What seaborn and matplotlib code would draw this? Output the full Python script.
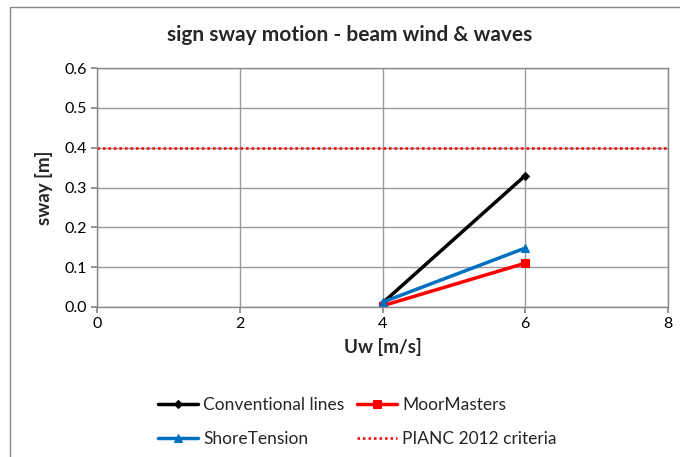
import matplotlib
matplotlib.use("Agg")
import matplotlib.pyplot as plt
import seaborn as sns
import pandas as pd
from matplotlib.patches import Rectangle

sns.set_theme(style="white")
plt.rcParams['font.family'] = ['Lato', 'DejaVu Sans']

uw = [4, 6]
conventional = [0.01, 0.33]
moormasters = [0.003, 0.11]
shoretension = [0.012, 0.148]
pianc_x = [0, 8]
pianc_y = [0.4, 0.4]

fig = plt.figure(figsize=(6.8, 4.57), dpi=100)
ax = fig.add_axes([97/680, 1-307/457, (668-97)/680, (307-68)/457])

fig.patches.append(Rectangle((10/680, -0.1), 1.0, 1-7/457+0.1, transform=fig.transFigure,
                             fill=False, edgecolor='#888888', linewidth=1.0))

sns.lineplot(x=uw, y=conventional, ax=ax, color='black', linewidth=2.5, marker='D',
             markersize=4.5, markeredgecolor='black', label='Conventional lines')
sns.lineplot(x=uw, y=moormasters, ax=ax, color='#ff0000', linewidth=2.5, marker='s',
             markersize=6, markeredgecolor='#ff0000', label='MoorMasters')
sns.lineplot(x=uw, y=shoretension, ax=ax, color='#0070c0', linewidth=2.5, marker='^',
             markersize=6, markeredgecolor='#0070c0', label='ShoreTension')
sns.lineplot(x=pianc_x, y=pianc_y, ax=ax, color='#ff0000', linewidth=1.8,
             linestyle=(0, (1, 1.2)), label='PIANC 2012 criteria')

ax.set_xlim(0, 8)
ax.set_ylim(0, 0.6)
ax.set_xticks([0, 2, 4, 6, 8])
ax.set_yticks([0, 0.1, 0.2, 0.3, 0.4, 0.5, 0.6])
ax.set_yticklabels([f"{v:.1f}" for v in [0, 0.1, 0.2, 0.3, 0.4, 0.5, 0.6]])
ax.grid(True, color='#9a9a9a', linewidth=1.0)
for s in ax.spines.values():
    s.set_color('#888888')
    s.set_linewidth(1.0)
ax.tick_params(axis='both', labelsize=11.5, colors='black', length=4, direction='out',
               color='#888888')
ax.tick_params(axis='both', left=True, bottom=True)
ax.set_xlabel('Uw [m/s]', fontsize=13.5, fontweight='bold', labelpad=5)
ax.set_ylabel('sway [m]', fontsize=13.5, fontweight='bold', labelpad=8)
fig.text(350/680, 1-35/457, 'sign sway motion - beam wind & waves', ha='center', va='center',
         fontsize=15, fontweight='bold')

h, l = ax.get_legend_handles_labels()
order = [0, 2, 1, 3]
ax.legend([h[i] for i in order], [l[i] for i in order], loc='upper left',
          bbox_to_anchor=(0.08, -0.31), ncol=2, frameon=False,
          fontsize=12.5, handlelength=2.3, handletextpad=0.3, columnspacing=0.7,
          labelspacing=1.05)

fig.savefig('out.png', dpi=100)
